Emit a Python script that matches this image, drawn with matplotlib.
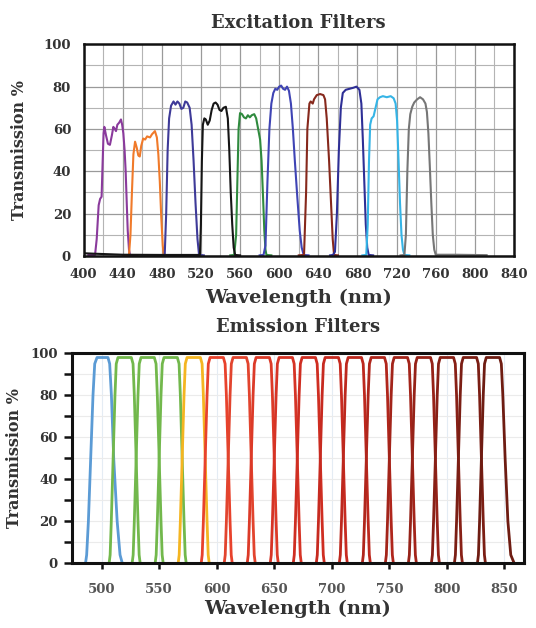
import matplotlib

matplotlib.use("Agg")
import matplotlib.pyplot as plt
from matplotlib.ticker import MultipleLocator

# excitation filter spectra: (wavelength nm, transmission %)
exc_violet_wl = [405, 411.8, 413.5, 415.5, 417, 418.5, 419.6, 420.5, 421.3, 423, 425, 427, 429,
                 430.5, 432, 433.2, 434.6, 436.5, 438.3, 439.5, 440.7, 442, 443.1, 444.2, 445.2,
                 446.5, 447.5, 455]
exc_violet_t = [0.5, 0.5, 8, 24, 27, 28, 45, 58, 61, 57, 53, 52.5, 57, 61, 60, 59, 62, 63, 64.5,
                62, 58, 50, 40, 25, 12, 3, 0.5, 0.3]

exc_orange_wl = [440, 446.5, 448, 449.5, 451, 452.7, 454.5, 456, 457.5, 459, 461, 463, 465, 468,
                 470, 473, 475, 476.5, 478, 479.5, 481, 482, 490]
exc_orange_t = [0.3, 0.5, 10, 30, 48, 54, 51, 47.5, 47, 52, 55.5, 55, 56.5, 56, 57.5, 59, 56, 48,
                35, 18, 5, 0.5, 0.3]

exc_blue1_wl = [478, 483, 484.5, 486, 487.5, 489.5, 492, 494, 496, 498, 500, 502, 504, 506, 508.5,
                510.5, 512.5, 514.5, 516.5, 518, 519.5, 523]
exc_blue1_t = [0.3, 0.5, 20, 50, 65, 71, 73, 71.5, 73, 72, 69.5, 70, 73, 72.5, 70, 62, 45, 25, 8,
               1, 0.5, 0.3]

exc_black_wl = [400, 410, 440, 480, 519, 520, 521, 522, 523.5, 525, 527, 529, 531, 533, 535, 537,
                539, 541, 543, 545.5, 547.5, 549, 550.5, 552, 553.5, 555, 560]
exc_black_t = [1.3, 1.1, 0.6, 0.5, 0.5, 15, 45, 62, 65, 64.5, 62, 64, 69, 72, 72.5, 71.5, 69, 68.5,
               70, 70.5, 65, 50, 30, 15, 4, 0.5, 0.3]

exc_green_wl = [550, 554, 556, 557.5, 558.5, 560, 562, 564, 566, 568, 570, 572, 574.5, 576.5,
                578.5, 580.5, 582, 583.5, 584.8, 586, 587, 592]
exc_green_t = [0.3, 0.5, 10, 40, 60, 67.5, 67, 65.5, 65, 66.5, 65.5, 66.5, 67, 65, 60, 55, 45, 28,
               12, 3, 0.5, 0.3]

exc_blue2_wl = [580, 584, 586, 588, 590, 592, 594, 596, 598, 600, 602, 604, 606, 608, 610, 612,
                614, 616, 618.5, 621, 623, 625, 630]
exc_blue2_t = [0.3, 0.5, 5, 35, 60, 72, 77, 79, 78.5, 80, 80.5, 79, 78.5, 80, 78, 72, 60, 45, 28,
               12, 4, 0.5, 0.3]

exc_brown_wl = [620, 625.4, 627.5, 628.8, 630.9, 632.2, 634.3, 635.6, 638.4, 641.8, 645.2, 646.9,
                648.6, 651, 653, 654.7, 656.1, 660]
exc_brown_t = [0.3, 0.5, 30, 60, 72, 73, 72, 74, 76, 76.5, 76, 74, 65, 45, 25, 8, 0.5, 0.3]

exc_indigo_wl = [652, 655, 657, 659, 661, 663, 665, 668, 672, 676, 679, 682, 684, 685.5, 687,
                 688.5, 690, 691.5, 696]
exc_indigo_t = [0.3, 0.5, 2, 20, 50, 70, 77, 78.5, 79, 79.5, 80, 78.5, 72, 55, 35, 15, 4, 0.5, 0.3]

exc_cyan_wl = [685, 689, 690.5, 691.8, 693, 694.5, 696.5, 698.5, 700.5, 703, 706, 710, 714, 717,
               719, 720.5, 722, 723.5, 725, 726.5, 728, 733]
exc_cyan_t = [0.3, 0.5, 15, 45, 62, 65, 66, 70, 74, 75, 75.5, 75, 75.5, 74.5, 72, 64, 45, 25, 10,
              3, 0.5, 0.3]

exc_grey_wl = [724, 728, 729.5, 731, 732.5, 734, 736, 738, 741, 744, 747, 749.5, 751, 752.5, 754,
               755.5, 757, 758.5, 760, 780, 812]
exc_grey_t = [0.3, 0.5, 10, 40, 60, 67, 70.5, 72.5, 74, 75, 74, 72, 68, 58, 42, 25, 10, 3, 0.6,
              0.6, 0.4]

excitation = [
    (exc_violet_wl, exc_violet_t, "#8a3a9c"),
    (exc_orange_wl, exc_orange_t, "#f07a2a"),
    (exc_blue1_wl, exc_blue1_t, "#3e3a98"),
    (exc_green_wl, exc_green_t, "#2f8a3e"),
    (exc_blue2_wl, exc_blue2_t, "#3f44b4"),
    (exc_brown_wl, exc_brown_t, "#86281c"),
    (exc_indigo_wl, exc_indigo_t, "#2e2f96"),
    (exc_cyan_wl, exc_cyan_t, "#35b4e6"),
    (exc_grey_wl, exc_grey_t, "#767676"),
    (exc_black_wl, exc_black_t, "#151515"),
]
exc_xticks = [400, 440, 480, 520, 560, 600, 640, 680, 720, 760, 800, 840]
exc_yticks = [0, 20, 40, 60, 80, 100]

# emission filter edges: wavelength at each transmission level in em_levels
em_levels = [0, 4, 20, 50, 80, 95, 98, 98, 95, 80, 50, 20, 4, 0]
em_bands = [
    [486.0, 487.0, 488.5, 490.5, 492.5, 494.0, 496.0, 505.5, 507.0, 508.5, 510.5, 513.5, 516.0, 518.0],
    [506.5, 507.4, 508.4, 510.0, 511.6, 512.7, 514.2, 525.8, 527.3, 528.4, 530.0, 531.6, 532.6, 533.5],
    [526.5, 527.4, 528.4, 530.0, 531.6, 532.7, 534.2, 545.8, 547.3, 548.4, 550.0, 551.6, 552.6, 553.5],
    [546.5, 547.4, 548.4, 550.0, 551.6, 552.7, 554.2, 565.8, 567.3, 568.4, 570.0, 571.6, 572.6, 573.5],
    [566.5, 567.4, 568.4, 570.0, 571.6, 572.7, 574.2, 585.8, 587.3, 588.4, 590.0, 591.6, 592.6, 593.5],
    [586.5, 587.4, 588.4, 590.0, 591.6, 592.7, 594.2, 605.8, 607.3, 608.4, 610.0, 611.6, 612.6, 613.5],
    [606.5, 607.4, 608.4, 610.0, 611.6, 612.7, 614.2, 625.8, 627.3, 628.4, 630.0, 631.6, 632.6, 633.5],
    [626.5, 627.4, 628.4, 630.0, 631.6, 632.7, 634.2, 645.8, 647.3, 648.4, 650.0, 651.6, 652.6, 653.5],
    [646.5, 647.4, 648.4, 650.0, 651.6, 652.7, 654.2, 665.8, 667.3, 668.4, 670.0, 671.6, 672.6, 673.5],
    [666.5, 667.4, 668.4, 670.0, 671.6, 672.7, 674.2, 685.8, 687.3, 688.4, 690.0, 691.6, 692.6, 693.5],
    [686.5, 687.4, 688.4, 690.0, 691.6, 692.7, 694.2, 705.8, 707.3, 708.4, 710.0, 711.6, 712.6, 713.5],
    [706.5, 707.4, 708.4, 710.0, 711.6, 712.7, 714.2, 725.8, 727.3, 728.4, 730.0, 731.6, 732.6, 733.5],
    [726.5, 727.4, 728.4, 730.0, 731.6, 732.7, 734.2, 745.8, 747.3, 748.4, 750.0, 751.6, 752.6, 753.5],
    [746.5, 747.4, 748.4, 750.0, 751.6, 752.7, 754.2, 765.8, 767.3, 768.4, 770.0, 771.6, 772.6, 773.5],
    [766.5, 767.4, 768.4, 770.0, 771.6, 772.7, 774.2, 785.8, 787.3, 788.4, 790.0, 791.6, 792.6, 793.5],
    [786.5, 787.4, 788.4, 790.0, 791.6, 792.7, 794.2, 805.8, 807.3, 808.4, 810.0, 811.6, 812.6, 813.5],
    [806.5, 807.4, 808.4, 810.0, 811.6, 812.7, 814.2, 825.8, 827.3, 828.4, 830.0, 831.6, 832.6, 833.5],
    [826.5, 827.4, 828.4, 830.0, 831.6, 832.7, 834.2, 845.8, 847.3, 848.6, 850.6, 853.0, 855.5, 858.5],
]
em_colors = [
    "#5b9bd5", "#72b84c", "#72b84c", "#72b84c", "#f4b521",
    "#e8422c", "#e2442e", "#dc3a28", "#d63426", "#cf2e22", "#c72a20", "#bd281e",
    "#b0261c", "#a3241a", "#962218", "#882016", "#7b1e14", "#6e1c12",
]
em_xticks = [500, 550, 600, 650, 700, 750, 800, 850]
em_yticks = [0, 20, 40, 60, 80, 100]

SERIF = "DejaVu Serif"
TEXT = "#333333"

fig = plt.figure(figsize=(5.36, 6.28), dpi=100)

# --- excitation panel ---
ax1 = fig.add_axes([83.5 / 536, 1 - 256 / 628, 430.5 / 536, 211.7 / 628])
ax1.set_xlim(400, 840)
ax1.set_ylim(0, 100)
ax1.set_xticks(exc_xticks)
ax1.set_yticks(exc_yticks)
ax1.xaxis.set_minor_locator(MultipleLocator(20))
ax1.yaxis.set_minor_locator(MultipleLocator(10))
ax1.grid(which="major", color="#9a9a9a", lw=0.9)
ax1.grid(which="minor", color="#b4b4b4", lw=0.8)
ax1.set_axisbelow(True)
for wl, t, c in excitation:
    ax1.plot(wl, t, color=c, lw=1.5, solid_joinstyle="round")
for s in ax1.spines.values():
    s.set_linewidth(1.8)
    s.set_color("#111111")
ax1.tick_params(which="both", length=0, pad=9, labelcolor=TEXT)
for lab in ax1.get_xticklabels() + ax1.get_yticklabels():
    lab.set_fontfamily(SERIF)
    lab.set_fontweight("bold")
    lab.set_fontsize(9.5)
ax1.set_title("Excitation Filters", family=SERIF, weight="bold", size=13, color=TEXT, pad=12)
ax1.set_xlabel("Wavelength (nm)", family=SERIF, weight="bold", size=14, color=TEXT, labelpad=5)
ax1.set_ylabel("Transmission %", family=SERIF, weight="bold", size=11.5, color=TEXT, labelpad=11)

# --- emission panel ---
ax2 = fig.add_axes([71.7 / 536, 1 - 563.3 / 628, 452.3 / 536, 210 / 628])
ax2.set_xlim(474, 867)
ax2.set_ylim(0, 100)
ax2.set_xticks(em_xticks)
ax2.set_yticks(em_yticks)
ax2.yaxis.set_minor_locator(MultipleLocator(10))
ax2.grid(which="both", axis="y", color="#ebebeb", lw=0.8)
ax2.grid(which="major", axis="x", color="#e4ecf4", lw=0.8)
ax2.set_axisbelow(True)
for wl, c in zip(em_bands, em_colors):
    ax2.plot(wl, em_levels, color=c, lw=2.0, solid_joinstyle="round")
for s in ax2.spines.values():
    s.set_linewidth(2.2)
    s.set_color("#111111")
ax2.tick_params(which="both", direction="out", width=1.8, color="#111111", labelcolor=TEXT)
ax2.tick_params(axis="y", which="both", length=6, pad=4)
ax2.tick_params(axis="x", length=4, pad=10, labelcolor="#555555")
for lab in ax2.get_xticklabels() + ax2.get_yticklabels():
    lab.set_fontfamily(SERIF)
    lab.set_fontweight("bold")
    lab.set_fontsize(9.5)
ax2.set_title("Emission Filters", family=SERIF, weight="bold", size=13, color=TEXT, pad=15)
ax2.set_xlabel("Wavelength (nm)", family=SERIF, weight="bold", size=14, color=TEXT, labelpad=3)
ax2.set_ylabel("Transmission %", family=SERIF, weight="bold", size=11.5, color=TEXT, labelpad=5)

fig.savefig("out.png", dpi=100)
plt.close(fig)
